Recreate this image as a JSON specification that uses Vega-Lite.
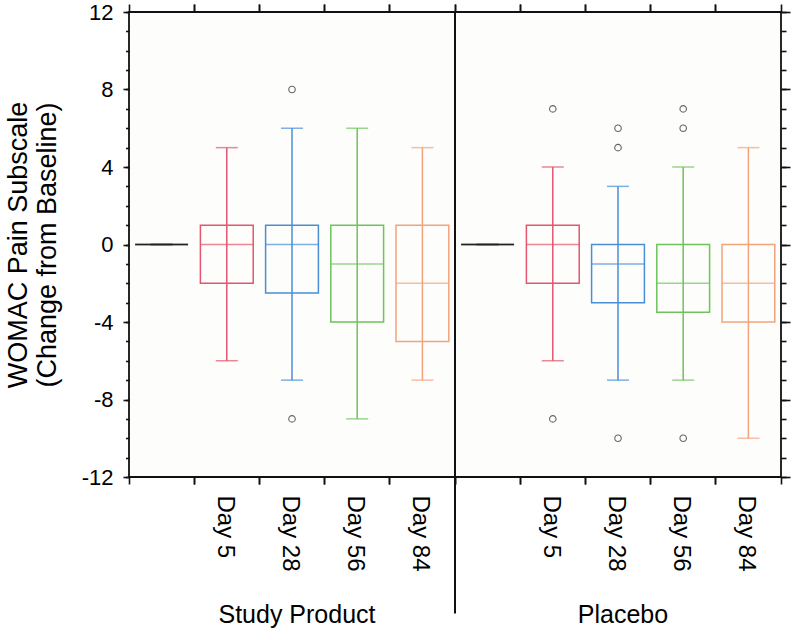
{
  "$schema": "https://vega.github.io/schema/vega-lite/v6.json",
  "width": 652,
  "height": 465,
  "autosize": {"type": "none"},
  "padding": {"left": 129, "top": 12, "right": 11, "bottom": 153},
  "background": "white",
  "config": {
    "view": {"stroke": "#111", "strokeWidth": 1.8, "fill": "#fdfdfb"},
    "axis": {"domain": false, "grid": false, "tickColor": "#111", "tickWidth": 1.6, "labelColor": "#000", "labelFont": "Liberation Sans", "titleFont": "Liberation Sans", "titleColor": "#000", "titleFontWeight": "normal", "labelFlush": false, "labelOverlap": false, "labelBound": false}
  },
  "datasets": {
    "boxes": [
      {"slot": "Study Product|Baseline", "day": "Baseline", "lo": 0, "q1": 0, "med": 0, "q3": 0, "hi": 0},
      {"slot": "Study Product|Day 5", "day": "Day 5", "lo": -6, "q1": -2, "med": 0, "q3": 1, "hi": 5},
      {"slot": "Study Product|Day 28", "day": "Day 28", "lo": -7, "q1": -2.5, "med": 0, "q3": 1, "hi": 6},
      {"slot": "Study Product|Day 56", "day": "Day 56", "lo": -9, "q1": -4, "med": -1, "q3": 1, "hi": 6},
      {"slot": "Study Product|Day 84", "day": "Day 84", "lo": -7, "q1": -5, "med": -2, "q3": 1, "hi": 5},
      {"slot": "Placebo|Baseline", "day": "Baseline", "lo": 0, "q1": 0, "med": 0, "q3": 0, "hi": 0},
      {"slot": "Placebo|Day 5", "day": "Day 5", "lo": -6, "q1": -2, "med": 0, "q3": 1, "hi": 4},
      {"slot": "Placebo|Day 28", "day": "Day 28", "lo": -7, "q1": -3, "med": -1, "q3": 0, "hi": 3},
      {"slot": "Placebo|Day 56", "day": "Day 56", "lo": -7, "q1": -3.5, "med": -2, "q3": 0, "hi": 4},
      {"slot": "Placebo|Day 84", "day": "Day 84", "lo": -10, "q1": -4, "med": -2, "q3": 0, "hi": 5}
    ],
    "outliers": [
      {"slot": "Study Product|Day 28", "value": 8},
      {"slot": "Study Product|Day 28", "value": -9},
      {"slot": "Placebo|Day 5", "value": 7},
      {"slot": "Placebo|Day 5", "value": -9},
      {"slot": "Placebo|Day 28", "value": 6},
      {"slot": "Placebo|Day 28", "value": 5},
      {"slot": "Placebo|Day 28", "value": -10},
      {"slot": "Placebo|Day 56", "value": 7},
      {"slot": "Placebo|Day 56", "value": 6},
      {"slot": "Placebo|Day 56", "value": -10}
    ]
  },
  "resolve": {"axis": {"x": "independent", "y": "independent"}},
  "layer": [
    {
      "data": {"name": "boxes"},
      "mark": {"type": "rule", "strokeWidth": 1.5},
      "encoding": {
        "x": {"field": "slot", "type": "nominal",
          "scale": {"domain": ["Study Product|Baseline", "Study Product|Day 5", "Study Product|Day 28", "Study Product|Day 56", "Study Product|Day 84", "Placebo|Baseline", "Placebo|Day 5", "Placebo|Day 28", "Placebo|Day 56", "Placebo|Day 84"], "paddingInner": 0, "paddingOuter": 0},
          "axis": {"orient": "bottom", "ticks": false, "tickSize": 0, "labelAngle": 90, "labelFontSize": 24, "labelPadding": 18, "labelOffset": -2, "title": null,
            "labelExpr": "indexof(datum.label, 'Baseline') >= 0 ? '' : split(datum.label, '|')[1]"}},
        "y": {"field": "lo", "type": "quantitative", "scale": {"domain": [-12, 12], "nice": false, "zero": false},
          "axis": {"orient": "left", "values": [-12, -8, -4, 0, 4, 8, 12], "tickSize": 6, "labelFontSize": 22, "labelPadding": 10,
            "labelExpr": "datum.value < 0 ? '-' + abs(datum.value) : '' + datum.value",
            "title": ["WOMAC Pain Subscale", "(Change from Baseline)"], "titleFontSize": 27, "titleLineHeight": 29, "titlePadding": 20}},
        "y2": {"field": "hi"},
        "color": {"field": "day", "type": "nominal", "legend": null,
          "scale": {"domain": ["Baseline", "Day 5", "Day 28", "Day 56", "Day 84"], "range": ["#222222", "#e3566e", "#4a8fd6", "#6cc45b", "#f4a27c"]}}
      }
    },
    {
      "data": {"name": "boxes"},
      "mark": {"type": "bar", "filled": false, "strokeWidth": 1.5, "width": {"band": 0.81}},
      "encoding": {
        "x": {"field": "slot", "type": "nominal",
          "axis": {"orient": "bottom", "bandPosition": 0, "tickSize": 7, "labels": false, "title": null}},
        "y": {"field": "q1", "type": "quantitative",
          "axis": {"orient": "left", "values": [-12, -11, -10, -9, -8, -7, -6, -5, -4, -3, -2, -1, 0, 1, 2, 3, 4, 5, 6, 7, 8, 9, 10, 11, 12], "tickSize": 3.5, "labels": false, "title": null}},
        "y2": {"field": "q3"},
        "color": {"field": "day", "type": "nominal", "legend": null}
      }
    },
    {
      "data": {"name": "boxes"},
      "mark": {"type": "tick", "size": 53, "thickness": 1.5},
      "encoding": {
        "x": {"field": "slot", "type": "nominal",
          "axis": {"orient": "bottom", "bandPosition": 1, "tickSize": 7, "labels": false, "title": null}},
        "y": {"field": "med", "type": "quantitative",
          "axis": {"orient": "right", "values": [-12, -8, -4, 0, 4, 8, 12], "tickSize": 9, "labels": false, "title": null}},
        "color": {"field": "day", "type": "nominal", "legend": null}
      }
    },
    {
      "data": {"name": "boxes"},
      "mark": {"type": "tick", "size": 22, "thickness": 1.5},
      "encoding": {
        "x": {"field": "slot", "type": "nominal",
          "axis": {"orient": "top", "bandPosition": 0, "tickSize": 8, "labels": false, "title": null}},
        "y": {"field": "lo", "type": "quantitative",
          "axis": {"orient": "right", "values": [-12, -11, -10, -9, -8, -7, -6, -5, -4, -3, -2, -1, 0, 1, 2, 3, 4, 5, 6, 7, 8, 9, 10, 11, 12], "tickSize": 5, "labels": false, "title": null}},
        "color": {"field": "day", "type": "nominal", "legend": null}
      }
    },
    {
      "data": {"name": "boxes"},
      "mark": {"type": "tick", "size": 22, "thickness": 1.5},
      "encoding": {
        "x": {"field": "slot", "type": "nominal",
          "axis": {"orient": "top", "bandPosition": 1, "tickSize": 8, "labels": false, "title": null}},
        "y": {"field": "hi", "type": "quantitative", "axis": null},
        "color": {"field": "day", "type": "nominal", "legend": null}
      }
    },
    {
      "data": {"name": "outliers"},
      "mark": {"type": "point", "shape": "circle", "filled": false, "size": 42, "strokeWidth": 1.1, "color": "#222"},
      "encoding": {
        "x": {"field": "slot", "type": "nominal",
          "axis": {"orient": "bottom", "values": ["Study Product|Day 28", "Placebo|Day 28"], "ticks": false, "tickSize": 0, "labelAngle": 0, "labelFontSize": 25, "labelPadding": 125, "labelOffset": 5, "labelBaseline": "top", "title": null,
            "labelExpr": "split(datum.label, '|')[0]"}},
        "y": {"field": "value", "type": "quantitative", "axis": null}
      }
    },
    {
      "data": {"values": [{}]},
      "mark": {"type": "rule", "strokeWidth": 2, "color": "#111"},
      "encoding": {
        "x": {"datum": "Placebo|Baseline", "type": "nominal", "bandPosition": 0, "axis": null},
        "y": {"datum": 12, "type": "quantitative", "axis": null},
        "y2": {"datum": -19.05}
      }
    }
  ]
}
